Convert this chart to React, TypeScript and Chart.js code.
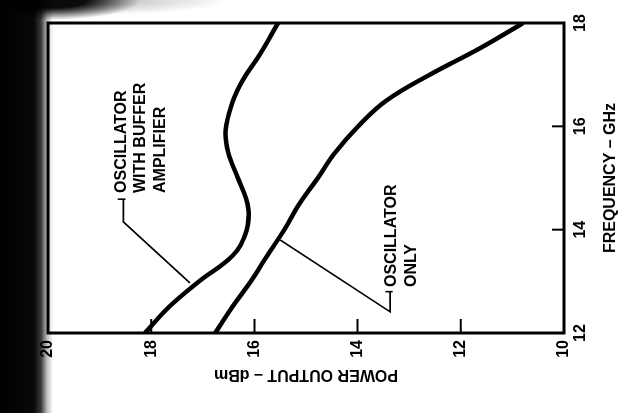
import { useEffect, useRef } from "react";
import { Chart, registerables } from "chart.js";

Chart.register(...registerables);

// ---- data (original chart orientation: frequency on x, power on y) ----
const frequencyTicks = [12, 14, 16, 18];
const powerTicks = [10, 12, 14, 16, 18, 20];

const bufferFreqGHz = [12, 12.5, 13, 13.5, 13.9, 14.3, 14.6, 15.0, 15.5, 15.9, 16.45, 16.9, 17.4, 18];
const bufferPowerDbm = [18.12, 17.66, 17.07, 16.42, 16.18, 16.11, 16.16, 16.32, 16.51, 16.56, 16.43, 16.22, 15.89, 15.54];

const oscFreqGHz = [12, 12.5, 13, 13.5, 14, 14.5, 15, 15.5, 16, 16.5, 17, 17.5, 18];
const oscPowerDbm = [16.76, 16.43, 16.07, 15.75, 15.42, 15.13, 14.77, 14.43, 13.99, 13.44, 12.6, 11.65, 10.79];

const bufferLabelLines = ["OSCILLATOR", "WITH BUFFER", "AMPLIFIER"];
const bufferLabelAnchor = { f: 14.71, p: 18.58 };
const bufferLeader = [
  [14.59, 18.54],
  [14.15, 18.54],
  [12.97, 17.25],
];
const bufferStub = [
  [14.59, 18.65],
  [14.59, 18.5],
];

const oscLabelLines = ["OSCILLATOR", "ONLY"];
const oscLabelAnchor = { f: 12.89, p: 13.34 };
const oscLeader = [
  [12.8, 13.37],
  [12.41, 13.37],
  [13.8, 15.5],
];
const oscStub = [
  [12.8, 13.46],
  [12.8, 13.32],
];

const FONT = '"Liberation Sans", Arial, Helvetica, sans-serif';

const decorPlugin = {
  id: "decor",
  afterDraw(chart: any) {
    const { ctx, chartArea, scales } = chart;
    const xs = scales.x;
    const ys = scales.y;
    ctx.save();
    ctx.strokeStyle = "#000";
    ctx.fillStyle = "#000";

    // frame
    ctx.lineWidth = 3;
    ctx.strokeRect(chartArea.left, chartArea.top, chartArea.right - chartArea.left, chartArea.bottom - chartArea.top);

    // inward ticks
    ctx.lineWidth = 2;
    ctx.beginPath();
    frequencyTicks.forEach((v) => {
      const px = xs.getPixelForValue(v);
      ctx.moveTo(px, chartArea.bottom);
      ctx.lineTo(px, chartArea.bottom - 12);
    });
    powerTicks.forEach((v) => {
      const py = ys.getPixelForValue(v);
      ctx.moveTo(chartArea.left, py);
      ctx.lineTo(chartArea.left + 14, py);
    });
    ctx.stroke();

    // annotations
    ctx.font = `bold 16px ${FONT}`;
    ctx.textAlign = "left";
    ctx.textBaseline = "middle";
    const drawLabel = (lines: string[], anchor: { f: number; p: number }) => {
      const x = xs.getPixelForValue(anchor.f);
      const y = ys.getPixelForValue(anchor.p);
      lines.forEach((t, i) => ctx.fillText(t, x, y + i * 19.5));
    };
    drawLabel(bufferLabelLines, bufferLabelAnchor);
    drawLabel(oscLabelLines, oscLabelAnchor);

    ctx.lineWidth = 1.6;
    const drawLeader = (pts: number[][]) => {
      ctx.beginPath();
      pts.forEach(([f, p], i) => {
        const x = xs.getPixelForValue(f);
        const y = ys.getPixelForValue(p);
        if (i === 0) ctx.moveTo(x, y);
        else ctx.lineTo(x, y);
      });
      ctx.stroke();
    };
    drawLeader(bufferLeader);
    drawLeader(bufferStub);
    drawLeader(oscLeader);
    drawLeader(oscStub);
    ctx.restore();
  },
};

export default function App() {
  const canvasRef = useRef<HTMLCanvasElement | null>(null);

  useEffect(() => {
    const canvas = canvasRef.current;
    if (!canvas) return;
    const toXY = (fs: number[], ps: number[]) => fs.map((f, i) => ({ x: f, y: ps[i] }));
    const chart = new Chart(canvas, {
      type: "line",
      data: {
        datasets: [
          {
            label: "Oscillator with buffer amplifier",
            data: toXY(bufferFreqGHz, bufferPowerDbm),
            borderColor: "#000",
            borderWidth: 4.5,
            pointRadius: 0,
            tension: 0.4,
            fill: false,
          },
          {
            label: "Oscillator only",
            data: toXY(oscFreqGHz, oscPowerDbm),
            borderColor: "#000",
            borderWidth: 4.5,
            pointRadius: 0,
            tension: 0.4,
            fill: false,
          },
        ],
      },
      options: {
        animation: false,
        responsive: false,
        devicePixelRatio: 1,
        layout: { padding: { top: 48, right: 23, left: 0, bottom: 0 } },
        plugins: { legend: { display: false }, tooltip: { enabled: false } },
        scales: {
          x: {
            type: "linear",
            position: "bottom",
            min: 12,
            max: 18,
            afterBuildTicks: (s: any) => {
              s.ticks = frequencyTicks.map((v) => ({ value: v }));
            },
            ticks: {
              color: "#000",
              padding: 7,
              font: { family: FONT, size: 16, weight: "bold" },
            },
            grid: { display: false, drawTicks: false },
            border: { display: false },
            title: {
              display: true,
              text: "FREQUENCY – GHz",
              color: "#000",
              font: { family: FONT, size: 16, weight: "bold", lineHeight: 1 },
              padding: { top: 0, bottom: 0 },
            },
            afterFit: (s: any) => {
              s.height = 55;
            },
          },
          y: {
            type: "linear",
            position: "left",
            min: 10,
            max: 20,
            afterBuildTicks: (s: any) => {
              s.ticks = powerTicks.map((v) => ({ value: v }));
            },
            ticks: {
              color: "#000",
              padding: 7,
              font: { family: FONT, size: 16, weight: "bold" },
            },
            grid: { display: false, drawTicks: false },
            border: { display: false },
            title: {
              display: true,
              text: "POWER OUTPUT – dBm",
              color: "#000",
              font: { family: FONT, size: 16, weight: "bold", lineHeight: 1 },
              padding: { top: 30.5, bottom: 0 },
            },
            afterFit: (s: any) => {
              s.width = 80;
            },
          },
        },
      },
      plugins: [decorPlugin],
    } as any);
    return () => chart.destroy();
  }, []);

  return (
    <>
      <div
        style={{
          position: "fixed",
          left: 0,
          top: 0,
          width: 619,
          height: 413,
          background:
            "radial-gradient(ellipse 90px 20px at 50px 0px, rgba(0,0,0,0.95) 40%, rgba(0,0,0,0) 100%), " +
            "radial-gradient(ellipse 170px 16px at 60px 0px, rgba(0,0,0,0.25) 30%, rgba(0,0,0,0) 100%), " +
            "linear-gradient(90deg, #000 0px, #080808 34px, #3a3a3a 41px, #bdbdbd 47px, #fff 53px)",
        }}
      />
      <div
        style={{
          position: "fixed",
          left: 0,
          top: 0,
          width: 413,
          height: 619,
          transformOrigin: "0 0",
          transform: "translate(0px, 413px) rotate(-90deg)",
        }}
      >
        <canvas ref={canvasRef} width={413} height={619} style={{ width: 413, height: 619, display: "block" }} />
      </div>
    </>
  );
}
